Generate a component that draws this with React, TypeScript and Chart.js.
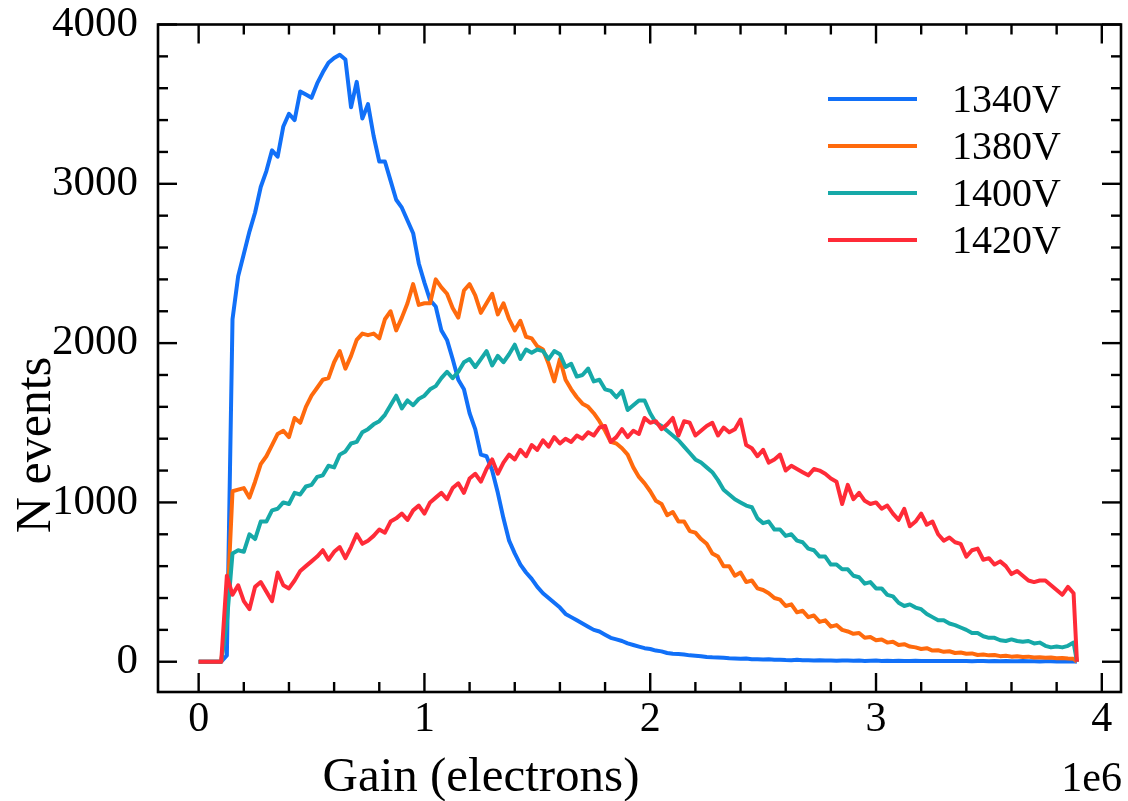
import React, { useEffect, useRef } from "react";
import { Chart, registerables } from "chart.js";

Chart.register(...registerables);

// Gain bin centres, in units of 1e6 electrons
const gain = [
  0, 0.025, 0.05, 0.075, 0.1, 0.125, 0.15, 0.175, 0.2, 0.225,
  0.25, 0.275, 0.3, 0.325, 0.35, 0.375, 0.4, 0.425, 0.45, 0.475,
  0.5, 0.525, 0.55, 0.575, 0.6, 0.625, 0.65, 0.675, 0.7, 0.725,
  0.75, 0.775, 0.8, 0.825, 0.85, 0.875, 0.9, 0.925, 0.95, 0.975,
  1.0, 1.025, 1.05, 1.075, 1.1, 1.125, 1.15, 1.175, 1.2, 1.225,
  1.25, 1.275, 1.3, 1.325, 1.35, 1.375, 1.4, 1.425, 1.45, 1.475,
  1.5, 1.525, 1.55, 1.575, 1.6, 1.625, 1.65, 1.675, 1.7, 1.725,
  1.75, 1.775, 1.8, 1.825, 1.85, 1.875, 1.9, 1.925, 1.95, 1.975,
  2.0, 2.025, 2.05, 2.075, 2.1, 2.125, 2.15, 2.175, 2.2, 2.225,
  2.25, 2.275, 2.3, 2.325, 2.35, 2.375, 2.4, 2.425, 2.45, 2.475,
  2.5, 2.525, 2.55, 2.575, 2.6, 2.625, 2.65, 2.675, 2.7, 2.725,
  2.75, 2.775, 2.8, 2.825, 2.85, 2.875, 2.9, 2.925, 2.95, 2.975,
  3.0, 3.025, 3.05, 3.075, 3.1, 3.125, 3.15, 3.175, 3.2, 3.225,
  3.25, 3.275, 3.3, 3.325, 3.35, 3.375, 3.4, 3.425, 3.45, 3.475,
  3.5, 3.525, 3.55, 3.575, 3.6, 3.625, 3.65, 3.675, 3.7, 3.725,
  3.75, 3.775, 3.8, 3.825, 3.85, 3.875, 3.89,
];

const v1340 = [
  0, 0, 0, 0, 0, 40, 2150, 2420, 2560, 2700,
  2820, 2980, 3080, 3210, 3170, 3360, 3440, 3400, 3580, 3560,
  3540, 3630, 3700, 3760, 3790, 3810, 3780, 3480, 3640, 3410,
  3500, 3300, 3140, 3140, 3020, 2900, 2850, 2770, 2690, 2500,
  2380, 2270, 2230, 2080, 2020, 1900, 1770, 1710, 1560, 1460,
  1300, 1290, 1200, 1060, 900, 760, 680, 610, 560, 520,
  470, 430, 400, 370, 340, 300, 280, 260, 240, 220,
  200, 190, 170, 150, 140, 130, 115, 105, 95, 85,
  80, 70, 65, 55, 50, 48, 45, 40, 38, 35,
  30, 28, 27, 25, 22, 20, 18, 20, 16, 15,
  14, 15, 12, 13, 11, 10, 12, 9, 10, 8,
  9, 8, 7, 6, 8, 7, 6, 7, 5, 6,
  7, 5, 6, 5, 6, 5, 4, 6, 5, 4,
  5, 4, 5, 4, 4, 5, 4, 3, 4, 4,
  3, 4, 3, 4, 3, 3, 4, 3, 3, 2,
  3, 3, 2, 3, 2, 3, 0,
];

const v1380 = [
  0, 0, 0, 0, 0, 300, 1070, 1080, 1090, 1030,
  1130, 1240, 1290, 1360, 1430, 1450, 1410, 1530, 1500, 1600,
  1670, 1720, 1770, 1780, 1880, 1950, 1840, 1920, 2020, 2060,
  2050, 2060, 2030, 2150, 2200, 2080, 2160, 2250, 2370, 2240,
  2250, 2250, 2400, 2350, 2310, 2220, 2160, 2330, 2370, 2300,
  2190, 2250, 2310, 2180, 2250, 2150, 2080, 2140, 2040, 2030,
  1980, 1960, 1870, 1760, 1900, 1770, 1710, 1660, 1620, 1600,
  1560, 1510, 1450, 1380, 1370, 1340, 1300, 1220, 1160, 1120,
  1070, 1010, 990, 920, 940, 880, 880, 820, 810, 770,
  740, 680, 660, 600, 600, 540, 560, 500, 510, 460,
  450, 430, 400, 390, 350, 360, 310, 320, 280, 290,
  250, 260, 220, 230, 200, 190, 175, 180, 150, 155,
  135, 140, 120, 125, 105, 110, 95, 90, 80, 85,
  70, 72, 62, 66, 55, 58, 50, 52, 42, 46,
  40, 42, 35, 38, 32, 35, 30, 32, 26, 28,
  25, 27, 22, 24, 20, 19, 0,
];

const v1400 = [
  0, 0, 0, 0, 0, 250, 680, 700, 690, 800,
  770, 880, 880, 950, 960, 1000, 990, 1060, 1050, 1100,
  1110, 1160, 1170, 1230, 1220, 1300, 1320, 1370, 1380, 1440,
  1460, 1490, 1510, 1550, 1610, 1670, 1590, 1640, 1610, 1650,
  1670, 1710, 1730, 1780, 1820, 1780, 1820, 1880, 1900, 1850,
  1900, 1950, 1860, 1920, 1880, 1930, 1990, 1900, 1960, 1940,
  1960, 1950, 1900, 1950, 1930, 1850, 1870, 1790, 1800, 1840,
  1760, 1770, 1710, 1700, 1660, 1700, 1580, 1610, 1640, 1640,
  1560, 1500, 1480, 1450, 1420, 1390, 1350, 1310, 1270, 1250,
  1220, 1190, 1140, 1080, 1050, 1020, 1000, 980, 970, 900,
  870, 880, 830, 830, 790, 800, 760, 750, 710, 700,
  660, 660, 610, 610, 580, 580, 540, 530, 490, 500,
  460, 460, 420, 410, 370, 350, 360, 340, 330, 300,
  280, 260, 260, 240, 230, 215, 200, 180, 180, 160,
  150, 150, 135, 130, 140, 130, 125, 130, 115, 120,
  100, 90, 95, 90, 100, 120, 0,
];

const v1420 = [
  0, 0, 0, 0, 0, 540, 420, 480, 380, 330,
  470, 500, 440, 380, 560, 480, 460, 510, 570, 600,
  630, 660, 700, 640, 690, 720, 650, 720, 800, 740,
  760, 790, 830, 810, 880, 900, 930, 890, 950, 980,
  930, 1000, 1030, 1060, 1020, 1090, 1120, 1060, 1150, 1180,
  1130, 1210, 1270, 1180, 1250, 1300, 1270, 1330, 1290, 1360,
  1330, 1390, 1350, 1410, 1370, 1400, 1380, 1420, 1400, 1440,
  1420, 1470, 1480, 1380, 1410, 1460, 1410, 1450, 1430, 1530,
  1500, 1510, 1460, 1490, 1530, 1420, 1510, 1500, 1420, 1450,
  1480, 1500, 1420, 1470, 1440, 1460, 1520, 1360, 1340, 1290,
  1330, 1250, 1270, 1300, 1200, 1230, 1210, 1190, 1170, 1210,
  1200, 1180, 1150, 1130, 990, 1110, 1020, 1060, 1010, 990,
  1000, 960, 980, 930, 890, 960, 850, 880, 930, 860,
  880, 800, 760, 780, 750, 740, 660, 700, 710, 640,
  650, 610, 630, 600, 550, 570, 540, 510, 500, 510,
  510, 480, 450, 420, 470, 430, 0,
];

const seriesLabels = ["1340V", "1380V", "1400V", "1420V"];
const seriesValues = [v1340, v1380, v1400, v1420];
const seriesColors = ["#1170f8", "#ff6a0d", "#16a9a8", "#ff2b38"];

const xTickValues = [0, 1, 2, 3, 4];
const yTickValues = [0, 1000, 2000, 3000, 4000];

const xTitle = "Gain (electrons)";
const yTitle = "N events";
const xOffsetText = "1e6";

const SERIF = '"Liberation Serif", "DejaVu Serif", "Times New Roman", serif';
const MAJOR_LEN = 19;
const MINOR_LEN = 10;
const X_MINOR_STEP = 0.2;
const Y_MINOR_STEP = 200;

const framePlugin = {
  id: "frame",
  afterDraw(chart: any) {
    const { ctx, chartArea: a } = chart;
    const xs = chart.scales.x;
    const ys = chart.scales.y;
    ctx.save();
    ctx.strokeStyle = "#000";
    ctx.fillStyle = "#000";
    ctx.lineCap = "butt";
    const seg = (x1: number, y1: number, x2: number, y2: number) => {
      ctx.beginPath();
      ctx.moveTo(x1, y1);
      ctx.lineTo(x2, y2);
      ctx.stroke();
    };
    ctx.lineWidth = 2.4;
    // x ticks (bottom & top, inward)
    for (let k = Math.ceil(xs.min / X_MINOR_STEP - 1e-9); k * X_MINOR_STEP <= xs.max + 1e-9; k++) {
      const v = k * X_MINOR_STEP;
      const major = Math.abs(v - Math.round(v)) < 1e-6;
      const len = major ? MAJOR_LEN : MINOR_LEN;
      const p = xs.getPixelForValue(v);
      seg(p, a.bottom, p, a.bottom - len);
      seg(p, a.top, p, a.top + len);
    }
    // y ticks (left & right, inward)
    for (let k = Math.ceil(ys.min / Y_MINOR_STEP - 1e-9); k * Y_MINOR_STEP <= ys.max + 1e-9; k++) {
      const v = k * Y_MINOR_STEP;
      const major = Math.abs(v % 1000) < 1e-6;
      const len = major ? MAJOR_LEN : MINOR_LEN;
      const p = ys.getPixelForValue(v);
      seg(a.left, p, a.left + len, p);
      seg(a.right, p, a.right - len, p);
    }
    // frame
    ctx.lineWidth = 2.6;
    ctx.strokeRect(a.left, a.top, a.right - a.left, a.bottom - a.top);

    // axis titles
    ctx.font = `49px ${SERIF}`;
    ctx.textAlign = "center";
    ctx.textBaseline = "alphabetic";
    ctx.fillText(xTitle, 481, 791);

    ctx.save();
    ctx.translate(50, 445);
    ctx.rotate(-Math.PI / 2);
    ctx.font = `50px ${SERIF}`;
    ctx.fillText(yTitle, 0, 0);
    ctx.restore();

    ctx.font = `42px ${SERIF}`;
    ctx.textAlign = "right";
    ctx.fillText(xOffsetText, a.right + 1, 791);

    // legend
    const lx0 = a.right - 293;
    const lx1 = a.right - 204;
    const tx = a.right - 169;
    ctx.font = `40px ${SERIF}`;
    ctx.textAlign = "left";
    ctx.textBaseline = "middle";
    chart.data.datasets.forEach((ds: any, k: number) => {
      const y = a.top + 74.5 + 47 * k;
      ctx.strokeStyle = ds.borderColor;
      ctx.lineWidth = 4;
      seg(lx0, y, lx1, y);
      ctx.fillStyle = "#000";
      ctx.fillText(ds.label, tx, y + 2);
    });
    ctx.restore();
  },
};

export default function App() {
  const ref = useRef<HTMLCanvasElement | null>(null);
  useEffect(() => {
    if (!ref.current) return;
    const chart = new Chart(ref.current, {
      type: "line",
      data: {
        labels: gain,
        datasets: seriesLabels.map((label, k) => ({
          label,
          data: seriesValues[k],
          borderColor: seriesColors[k],
          backgroundColor: seriesColors[k],
          borderWidth: 4,
          pointRadius: 0,
          tension: 0,
          fill: false,
          borderJoinStyle: "round" as const,
          order: seriesLabels.length - k,
        })),
      },
      options: {
        animation: false,
        responsive: false,
        maintainAspectRatio: false,
        events: [],
        layout: { padding: { top: 24.5, right: 7, left: 0, bottom: 0 } },
        plugins: {
          legend: { display: false },
          tooltip: { enabled: false },
          title: { display: false },
        },
        scales: {
          x: {
            type: "linear",
            min: -0.18,
            max: 4.085,
            afterBuildTicks: (s: any) => {
              s.ticks = xTickValues.map((v) => ({ value: v }));
            },
            afterFit: (s: any) => {
              s.height = 109;
              s.paddingLeft = 0;
              s.paddingRight = 0;
            },
            grid: { display: false, drawTicks: false },
            border: { display: false },
            ticks: {
              autoSkip: false,
              maxRotation: 0,
              padding: 7,
              color: "#000",
              font: { family: SERIF, size: 42, lineHeight: 1 },
              callback: (v: any) => String(v),
            },
          },
          y: {
            type: "linear",
            min: -190,
            max: 4000,
            afterBuildTicks: (s: any) => {
              s.ticks = yTickValues.map((v) => ({ value: v }));
            },
            afterFit: (s: any) => {
              s.width = 158;
              s.paddingTop = 0;
              s.paddingBottom = 0;
            },
            grid: { display: false, drawTicks: false },
            border: { display: false },
            ticks: {
              autoSkip: false,
              padding: 20,
              color: "#000",
              font: { family: SERIF, size: 43, lineHeight: 1 },
              callback: (v: any) => String(v),
            },
          },
        },
      },
      plugins: [framePlugin],
    });
    return () => chart.destroy();
  }, []);

  return (
    <div style={{ position: "absolute", left: 0, top: 0, width: 1128, height: 801, background: "#fff" }}>
      <canvas ref={ref} width={1128} height={801} style={{ display: "block" }} />
    </div>
  );
}
